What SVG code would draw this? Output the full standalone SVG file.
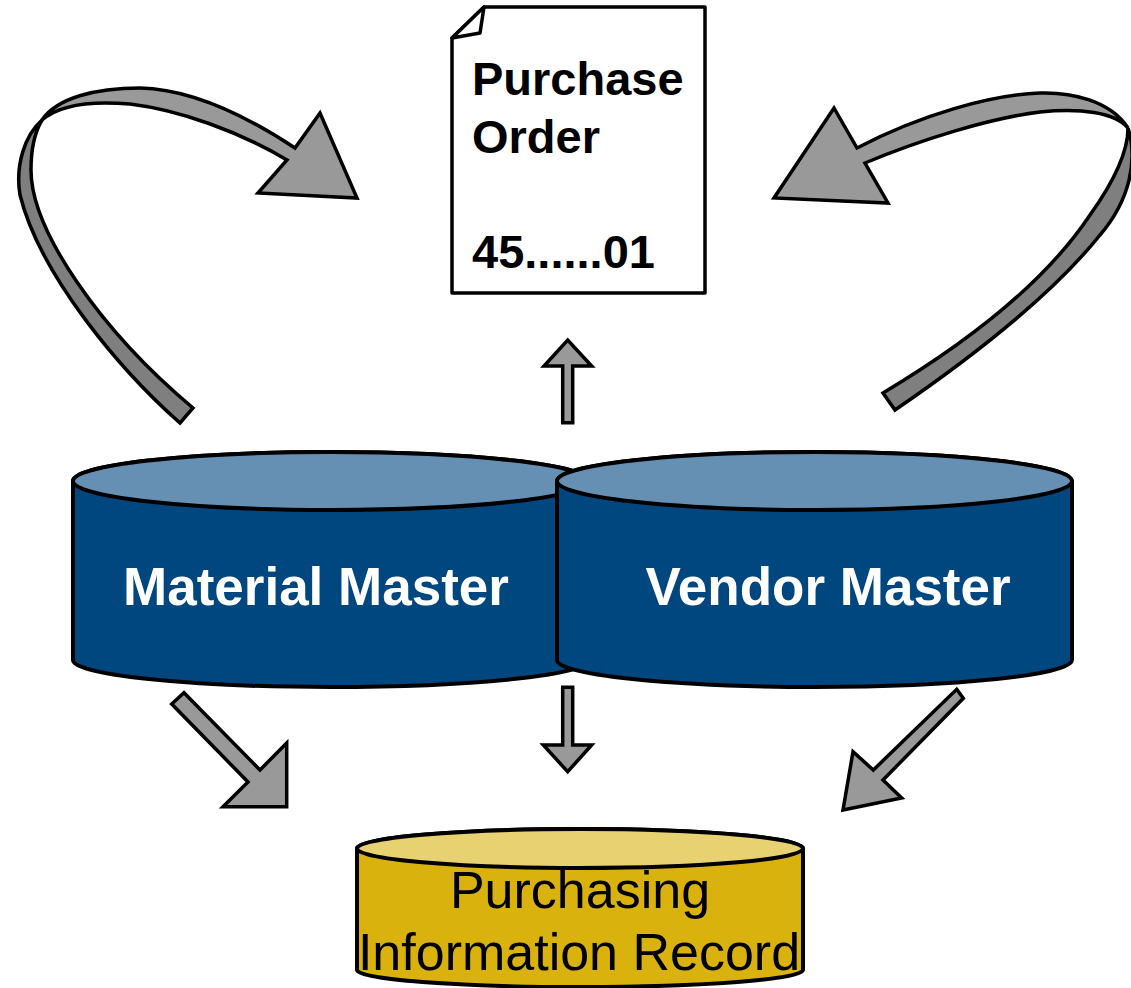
<svg xmlns="http://www.w3.org/2000/svg" width="1131" height="988" viewBox="0 0 1131 988">
<style>
.arr{fill:#999999;stroke:#000;stroke-width:3.5;stroke-linejoin:miter}
.arrd{fill:#7f7f7f;stroke:#000;stroke-width:3.5;stroke-linejoin:miter}
.doc{fill:#fff;stroke:#000;stroke-width:3.5;stroke-linejoin:round}
.blue{fill:#00467f;stroke:#000;stroke-width:4}
.bluetop{fill:#6690b3;stroke:#000;stroke-width:4}
.gold{fill:#dab20e;stroke:#000;stroke-width:4}
.goldtop{fill:#e8d170;stroke:#000;stroke-width:4}
.bt{font-family:"Liberation Sans",Arial,sans-serif;font-weight:bold}
.wt{fill:#fff;font-size:53px;text-anchor:middle}
.dt{fill:#000;font-size:47px}
.rt{font-family:"Liberation Sans",Arial,sans-serif;font-size:52px;fill:#000;text-anchor:middle}
</style>
<defs>
<clipPath id="pirClip">
<path d="M357,848.5 V970 A223,17 0 0 0 803,970 V848.5 A223,19.5 0 0 0 357,848.5 Z"/>
</clipPath>
</defs>
<g id="connectors">
<path class="arrd" d="M180,423 C120,370 40,275 20,195 C15,165 25,135 42,120 C36,130 31,145 31,170 C31,230 100,330 193,408 Z"/>
<path class="arr" d="M42,120 C57,98 95,88 140,88 C190,89 245,115 295,148 L320,113 L357,198 L258,193 L287,160 C240,132 180,110 130,104 C95,101 60,104 42,120 Z"/>
<path class="arrd" d="M1128,128 C1138,160 1130,200 1100,235 C1060,285 990,345 895,410 L883,393 C980,335 1050,275 1090,215 C1115,180 1128,150 1128,128 Z"/>
<path class="arr" d="M1128,128 C1110,100 1070,92 1040,93 C990,95 920,115 857,148 L834,108 L774,198 L888,203 L865,163 C920,140 990,118 1040,112 C1080,108 1115,112 1128,128 Z"/>
<path class="arr" d="M562.7,422.7 L562.7,366 L544,366 L567.7,340 L591.7,366 L572.7,366 L572.7,422.7 Z"/>
<path class="arr" d="M562.7,687.3 L572.7,687.3 L572.7,745 L591.7,745 L567.7,771.7 L543.3,745 L562.7,745 Z"/>
<path class="arr" d="M184,692.7 L260,770 L286.7,743 L286.7,806.7 L223,806.7 L248,782 L171.7,704 Z"/>
<path class="arr" d="M956.7,689.3 L963.3,698.3 L883,780 L901.7,798 L843,810 L853,751.7 L873.3,770 Z"/>
</g>
<g id="purchase-order">
<path class="doc" d="M452,38 L484,7 L705,7 L705,293 L452,293 Z"/>
<path class="doc" d="M452,38 L480,33 L484,7 Z"/>
<text class="bt dt" x="472" y="95">Purchase</text>
<text class="bt dt" x="472" y="153">Order</text>
<text class="bt dt" x="472" y="268">45......01</text>
</g>
<g id="material-master">
<path class="blue" d="M73,481 V660 A258,27 0 0 0 589,660 V481 A258,29 0 0 0 73,481 Z"/>
<ellipse class="bluetop" cx="331" cy="481" rx="258" ry="29"/>
<text class="bt wt" x="316" y="605">Material Master</text>
</g>
<g id="vendor-master">
<path class="blue" d="M557,481 V660 A257.5,27 0 0 0 1072,660 V481 A257.5,29 0 0 0 557,481 Z"/>
<ellipse class="bluetop" cx="814.5" cy="481" rx="257.5" ry="29"/>
<text class="bt wt" x="828" y="605">Vendor Master</text>
</g>
<g id="purchasing-info-record">
<path class="gold" d="M357,848.5 V970 A223,17 0 0 0 803,970 V848.5 A223,19.5 0 0 0 357,848.5 Z"/>
<ellipse class="goldtop" cx="580" cy="848.5" rx="223" ry="19.5"/>
<g clip-path="url(#pirClip)">
<text class="rt" x="580" y="908">Purchasing</text>
<text class="rt" x="579" y="970">Information Record</text>
</g>
</g>
</svg>
